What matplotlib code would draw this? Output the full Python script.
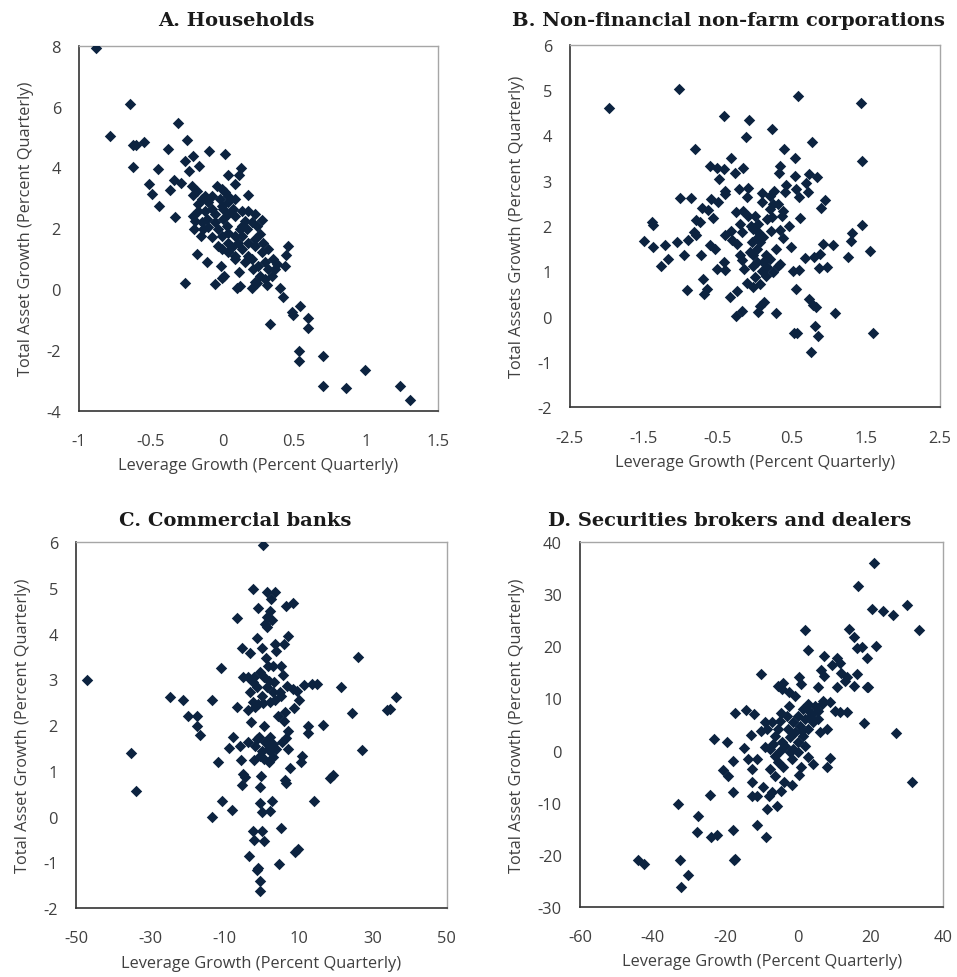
import numpy as np
import matplotlib
matplotlib.use("Agg")
import matplotlib.pyplot as plt

# Panel A: households
hh_lev = [-0.884, -0.642, -0.782, -0.626, -0.603, -0.545, -0.626, -0.31, -0.25, -0.382,
          -0.094, 0.02, -0.206, -0.264, -0.164, -0.233, -0.452, 0.129, 0.117, 0.036,
          0.087, -0.51, -0.494, -0.364, -0.34, -0.29, -0.44, -0.333, 0.18, 0.278,
          0.459, 0.44, 0.436, -0.175, -0.11, -0.013, 0.013, -0.006, 0.117, -0.05,
          -0.261, 0.099, 0.122, 0.203, 0.238, 0.312, 0.403, 0.422, 0.54, 0.482,
          0.489, 0.331, 0.594, 0.594, 0.531, 0.531, 0.703, 0.993, 0.703, 0.861,
          1.235, 1.307,
          -0.215, -0.18, -0.208, -0.145, -0.168, -0.099, -0.041, -0.006, 0.017, 0.041,
          0.087, -0.017, -0.075, -0.122, -0.168, -0.192, -0.145, -0.199, -0.152, -0.099,
          -0.075, -0.029, 0.006, 0.041, 0.087, 0.134, 0.18, 0.226, 0.157, 0.122,
          0.087, 0.041, -0.006, -0.029, -0.006, 0.041, 0.087, 0.134, 0.18, 0.226,
          0.261, 0.285, 0.319, 0.354, 0.296, 0.25, 0.203, 0.18, 0.157, 0.215,
          0.261, 0.319, 0.366, 0.377, 0.087, 0.064, 0.134, 0.168, 0.238, 0.203,
          0.041, 0.075, 0.006, -0.052, -0.11, -0.134, -0.052, 0.029, 0.134, 0.11,
          0.226, 0.273, 0.041, -0.006, -0.075, -0.122, -0.203, 0.296, 0.226, 0.343]
hh_assets = [7.91, 6.07, 5.03, 4.75, 4.75, 4.85, 4.01, 5.46, 4.89, 4.60,
             4.55, 4.45, 4.38, 4.22, 4.05, 3.89, 3.95, 3.97, 3.76, 3.76,
             3.47, 3.47, 3.13, 3.27, 3.60, 3.48, 2.72, 2.38, 3.10, 2.28,
             1.40, 1.11, 0.77, 1.15, 0.88, 0.77, 0.42, 0.38, 0.55, 0.16,
             0.20, 0.02, 0.11, 0.02, 0.20, 0.13, 0.05, -0.26, -0.55, -0.77,
             -0.85, -1.15, -0.96, -1.29, -2.05, -2.36, -2.20, -2.66, -3.20, -3.24,
             -3.20, -3.65,
             3.40, 3.23, 3.10, 2.96, 2.79, 2.85, 3.40, 3.29, 3.18, 3.07,
             2.96, 2.96, 2.63, 2.58, 2.58, 2.25, 2.19, 1.97, 1.73, 2.03,
             1.70, 1.97, 2.30, 2.47, 2.41, 2.58, 2.58, 2.47, 2.25, 1.97,
             1.75, 1.86, 1.75, 1.42, 1.32, 1.21, 1.10, 1.32, 1.53, 1.64,
             1.81, 1.53, 1.32, 0.99, 0.88, 0.77, 0.99, 1.10, 0.88, 0.66,
             0.44, 0.66, 0.66, 0.82, 0.99, 1.37, 1.75, 1.97, 2.08, 2.19,
             2.85, 2.63, 2.63, 2.47, 2.30, 1.97, 2.19, 2.08, 2.08, 1.53,
             1.42, 1.21, 1.53, 2.74, 3.07, 3.07, 2.41, 0.33, 0.22, 0.44]

# Panel B: non-financial non-farm corporations
nfc_lev = [-1.968, -1.032, 0.577, 1.432, -0.414, -0.086, 0.234, -0.122, 0.775, -0.806,
           0.396, 0.536, 1.45, -0.32, -0.162, -0.608, -0.509, -0.414, -0.275, -0.486,
           0.338, 0.324, 0.541, 0.725, 0.833, 0.689, 0.419, 0.554, 0.405, 0.257,
           0.09, 0.59, 0.712, 0.946, 0.892, -1.014, -0.865, -0.405, -0.401, -0.212,
           -0.09, -0.113, -0.599, -0.496, -0.712, -0.631, -0.572, -0.802, -0.743, -1.396,
           -1.383, -0.257, -0.158, -0.203, 0.0, 0.158, 0.234, 0.383, 0.36, 0.608,
           0.46, 0.338, 0.212, -0.054, -0.023, -0.18, -0.329, -0.401, -0.824, -0.797,
           -0.901, -1.059, -1.5, -1.378, -1.212, -0.959, -1.176, -1.266, -0.725, -0.608,
           -0.541, -0.315, -0.248, 0.023, 0.068, 0.279, 0.383, 0.482, 0.914, 1.05,
           1.306, 1.297, 1.45, 1.554, 1.261, 0.676, 0.797, 0.878, 0.869, 0.968,
           -0.203, -0.18, -0.068, -0.023, 0.149, 0.203, 0.113, 0.338, 0.315, 0.509,
           0.599, -0.023, 0.023, 0.09, 0.149, -0.149, -0.518, -0.405, -0.419, -0.707,
           -0.653, -0.689, -0.914, -0.104, 0.0, 0.068, -0.023, -0.239, -0.338, 0.554,
           0.734, 0.788, 0.824, 0.122, 0.068, 0.045, 0.284, -0.18, -0.257, 1.081,
           0.811, 0.856, 0.527, 0.563, 1.59, 0.752,
           -0.09, 0.045, 0.113, 0.203, 0.248, 0.203, 0.09, 0.045, 0.315, 0.248,
           0.158, 0.023, -0.045]
nfc_assets = [4.61, 5.03, 4.875, 4.71, 4.43, 4.34, 4.15, 3.96, 3.86, 3.70,
              3.70, 3.51, 3.44, 3.49, 3.29, 3.33, 3.29, 3.26, 3.17, 3.03,
              3.33, 3.18, 3.11, 3.15, 3.07, 2.95, 2.90, 2.82, 2.76, 2.78,
              2.73, 2.65, 2.74, 2.58, 2.40, 2.62, 2.62, 2.78, 2.71, 2.82,
              2.83, 2.65, 2.60, 2.52, 2.40, 2.36, 2.17, 2.13, 2.08, 2.08,
              2.02, 2.30, 2.32, 2.04, 2.23, 2.15, 2.19, 2.34, 2.23, 2.18,
              1.99, 1.91, 1.88, 2.01, 1.93, 1.86, 1.90, 1.80, 1.86, 1.80,
              1.70, 1.64, 1.66, 1.53, 1.57, 1.37, 1.27, 1.11, 1.35, 1.58,
              1.49, 1.68, 1.60, 1.73, 1.65, 1.49, 1.74, 1.53, 1.60, 1.57,
              1.85, 1.66, 2.02, 1.44, 1.31, 1.29, 1.31, 1.38, 1.07, 1.09,
              1.35, 1.24, 1.42, 1.35, 1.36, 1.27, 1.20, 1.16, 1.11, 1.00,
              1.04, 1.11, 1.20, 1.01, 0.90, 1.05, 1.05, 1.04, 1.20, 0.83,
              0.61, 0.50, 0.59, 0.74, 0.87, 0.72, 0.66, 0.56, 0.44, 0.62,
              0.40, 0.26, 0.21, 0.32, 0.23, 0.11, 0.08, 0.13, 0.02, 0.08,
              -0.20, -0.42, -0.35, -0.37, -0.36, -0.77,
              2.23, 1.86, 1.75, 2.38, 2.49, 2.67, 2.52, 2.04, 2.49, 0.98,
              1.09, 1.49, 1.64]

# Panel C: commercial banks
bank_lev = [0.36, -2.34, 1.44, 3.69, 2.52, -0.81, 2.34, 6.56, 8.63, -6.47,
            1.44, 2.79, 0.99, 1.44, -1.26, 7.28, 6.2, 3.69, 3.96, -5.13,
            -3.06, 0.09, 1.26, 26.08, -10.88, -47.12, 1.89, 3.24, 5.31, 5.76,
            -4.86, -3.51, -1.98, -0.36, 0.72, 2.16, 3.51, -2.34, -1.26, -3.06,
            6.83, 8.63, 9.53, 11.6, 13.58, 14.93, 21.4, 36.24, 33.81, 34.71,
            24.46, 5.04, 5.31, 10.16, 8.9, -24.64, -21.04, -13.22, -6.65, -2.16,
            -0.81, 0.54, 2.34, 3.69, -3.51, -1.71, -19.87, -17.27, -17.45, -16.55,
            -2.79, 0.72, 4.41, 6.38, 6.02, 12.68, 12.68, 16.73, 7.1, 6.65,
            -7.73, -8.63, -5.76, -3.51, -1.71, -0.54, 0.99, 2.34, 3.24, 3.96,
            5.49, 7.28, -35.16, 27.07, -11.6, -5.49, -1.89, -0.36, 0.72, 2.16,
            3.24, 10.88, 10.7, 7.73, -5.04, -4.41, -5.31, -0.09, -0.36, 6.47,
            6.65, 18.53, 19.42, -33.81, -10.52, -7.82, -13.4, -0.36, 2.88, 0.09,
            2.34, 14.3, -2.34, 0.09, -1.89, 0.72, 5.31, -3.24, -0.81, -1.26,
            4.86, 9.08, 9.98, -0.36, -0.36,
            1.44, 0.09, 3.24, -1.26, 1.89, 0.09, 2.34]
bank_assets = [5.95, 4.98, 4.92, 4.92, 4.75, 4.56, 4.50, 4.60, 4.67, 4.34,
               4.36, 4.31, 4.21, 4.14, 3.90, 3.94, 3.78, 3.78, 3.63, 3.69,
               3.58, 3.69, 3.47, 3.49, 3.24, 2.99, 3.30, 3.29, 3.29, 3.10,
               3.06, 3.06, 3.06, 3.16, 3.05, 2.97, 2.94, 2.94, 2.83, 2.72,
               2.86, 2.79, 2.75, 2.88, 2.90, 2.90, 2.83, 2.61, 2.32, 2.35,
               2.27, 2.72, 2.64, 2.56, 2.37, 2.61, 2.54, 2.54, 2.39, 2.50,
               2.46, 2.48, 2.50, 2.54, 2.32, 2.39, 2.21, 2.21, 1.99, 1.79,
               2.06, 1.99, 2.19, 2.28, 2.10, 1.99, 1.83, 2.01, 1.88, 1.71,
               1.73, 1.51, 1.55, 1.62, 1.55, 1.73, 1.62, 1.73, 1.59, 1.48,
               1.62, 1.48, 1.38, 1.46, 1.20, 1.24, 1.24, 1.33, 1.26, 1.19,
               1.30, 1.33, 1.19, 1.06, 0.93, 0.86, 0.68, 0.89, 0.64, 0.80,
               0.73, 0.84, 0.91, 0.56, 0.35, 0.15, 0.00, 0.30, 0.35, 0.09,
               0.13, 0.35, -0.32, -0.31, -0.51, -0.54, -0.25, -0.86, -1.13, -1.18,
               -1.04, -0.77, -0.71, -1.42, -1.62,
               2.83, 2.64, 2.72, 1.70, 1.48, 1.44, 1.44]

# Panel D: securities brokers and dealers
bd_lev = [21.01, 16.61, 20.28, 23.3, 26.24, 30.09, 33.39, 1.93, 14.04, 15.41,
          16.15, 17.71, 21.38, 18.99, 2.84, 7.25, 10.64, 11.56, 9.45, 6.24,
          16.24, 11.74, 13.39, 12.94, 7.25, -10.28, 0.37, 0.73, 5.6, 10.64,
          15.5, 18.9, 19.36, -5.41, -4.04, -4.5, -2.39, -0.83, 6.97, 8.81,
          10.18, 11.56, 13.39, 18.26, 26.88, 31.28, -17.34, -14.31, -12.02, -4.77,
          -2.39, -9.08, -10.18, -13.03, -23.03, -19.45, -14.77, -17.8, -13.85, -11.19,
          -20.73, -19.17, -17.8, -24.22, -12.57, -12.75, -9.54, -11.19, -12.75, -7.98,
          -7.06, -8.62, -5.69, -4.68, -3.94, -1.56, 0.73, 0.37, 2.84, 4.04,
          8.81, 7.89, -32.94, -27.43, -27.89, -24.04, -22.39, -17.8, -11.19, -8.81,
          -17.34, -17.52, -32.48, -30.18, -32.2, -43.94, -42.39,
          -7.25, -5.41, -6.33, -4.5, -2.66, -1.28, 0.09, 1.47, 2.84, 4.68,
          3.76, 5.6, 1.93, 0.55, -0.83, -2.2, -3.58, -4.95, -6.33, -7.71,
          -9.08, -6.79, -5.41, -4.04, -1.74, -1.28, 0.09, 1.47, 2.84, 4.22,
          5.6, 1.93, 0.09, -3.12, -4.95, -8.62, -7.71, -6.33, -2.2, 1.01,
          3.3, 6.51, 7.89, 6.06, 2.39]
bd_assets = [36.03, 31.55, 27.2, 26.88, 26.04, 27.96, 23.23, 23.23, 23.36, 21.88,
             19.71, 19.96, 20.03, 17.72, 19.39, 18.23, 17.72, 16.76, 16.44, 15.54,
             14.71, 14.9, 14.07, 13.43, 14.39, 14.65, 14.07, 12.79, 12.15, 12.15,
             12.47, 12.15, 12.28, 12.47, 12.98, 11.83, 11.19, 10.42, 9.59, 9.27,
             7.67, 7.35, 7.48, 5.3, 3.38, -6.09, 7.22, 7.8, 7.03, 7.22,
             8.63, 5.43, 3.70, 3.06, 2.23, 1.72, 0.50, -1.93, -1.61, -1.61,
             -3.66, -4.94, -8.02, -8.53, -6.09, -3.53, -7.06, -8.66, -8.78, -8.66,
             -8.02, -11.22, -10.58, -7.7, -5.97, -6.6, -3.09, -4.69, -1.29, -2.57,
             -1.48, -3.09, -10.26, -12.63, -15.7, -16.66, -16.21, -15.19, -14.29, -16.53,
             -20.82, -21.01, -21.01, -23.83, -26.26, -20.95, -21.78,
             5.43, 4.15, 2.87, 1.59, 4.15, 5.43, 6.71, 8.0, 8.95, 8.63,
             7.03, 7.67, 6.07, 4.79, 3.51, 2.55, 0.95, -0.01, -0.97, 0.31,
             0.63, 1.27, -2.25, -3.21, -1.61, 0.31, 1.59, 2.87, 4.15, 5.43,
             6.07, 0.95, -0.33, 6.71, 5.75, 4.15, -3.53, -4.81, -0.33, 3.83,
             6.39, 8.95, 4.15, 3.51, 8.0]

titles = ["A. Households", "B. Non-financial non-farm corporations",
          "C. Commercial banks", "D. Securities brokers and dealers"]
ylabels = ["Total Asset Growth (Percent Quarterly)", "Total Assets Growth (Percent Quarterly)",
           "Total Asset Growth (Percent Quarterly)", "Total Asset Growth (Percent Quarterly)"]

panels = [
    (hh_lev, hh_assets, (-1, 1.5), np.arange(-1, 1.51, 0.5), (-4, 8), np.arange(-4, 8.1, 2),
     [0.0825, 0.579, 0.3749, 0.3732], (0.2466, 0.9734)),
    (nfc_lev, nfc_assets, (-2.5, 2.5), np.arange(-2.5, 2.51, 1.0), (-2, 6), np.arange(-2, 6.1, 1),
     [0.5956, 0.5825, 0.3866, 0.3708], (0.7607, 0.9734)),
    (bank_lev, bank_assets, (-50, 50), np.arange(-50, 51, 20), (-2, 6), np.arange(-2, 6.1, 1),
     [0.0794, 0.0706, 0.3874, 0.3739], (0.2461, 0.462)),
    (bd_lev, bd_assets, (-60, 40), np.arange(-60, 41, 20), (-30, 40), np.arange(-30, 41, 10),
     [0.606, 0.0719, 0.3796, 0.3726], (0.7628, 0.462)),
]

marker_color = "#0c2340"
text_color = "#404040"

fig = plt.figure(figsize=(9.57, 9.78), dpi=100)

for i, (xs, ys, xlim, xticks, ylim, yticks, pos, tpos) in enumerate(panels):
    ax = fig.add_axes(pos)
    ax.scatter(xs, ys, marker="D", s=34, color=marker_color, linewidths=0, zorder=3)
    ax.set_xlim(*xlim)
    ax.set_ylim(*ylim)
    ax.set_xticks(xticks)
    ax.set_yticks(yticks)
    ax.set_xticklabels(["{:g}".format(round(t, 2)) for t in xticks])
    ax.set_yticklabels(["{:g}".format(round(t, 2)) for t in yticks])
    ax.tick_params(length=0, labelsize=11.8, labelcolor=text_color,
                   labelfontfamily="Open Sans")
    ax.tick_params(axis="x", pad=16)
    ax.tick_params(axis="y", pad=13)
    for side in ["left", "bottom"]:
        ax.spines[side].set_color("#333333")
        ax.spines[side].set_linewidth(1.2)
    for side in ["top", "right"]:
        ax.spines[side].set_color("#a6a6a6")
        ax.spines[side].set_linewidth(1.0)
    ax.set_xlabel("Leverage Growth (Percent Quarterly)", fontsize=11.8, color=text_color,
                  family="Open Sans", labelpad=6)
    ax.set_ylabel(ylabels[i], fontsize=11.8, color=text_color, family="Open Sans", labelpad=9)
    fig.text(tpos[0], tpos[1], titles[i], ha="center", va="baseline", fontsize=14,
             family="DejaVu Serif", weight="bold", color="#1a1a1a")

fig.savefig("out.png", dpi=100)
